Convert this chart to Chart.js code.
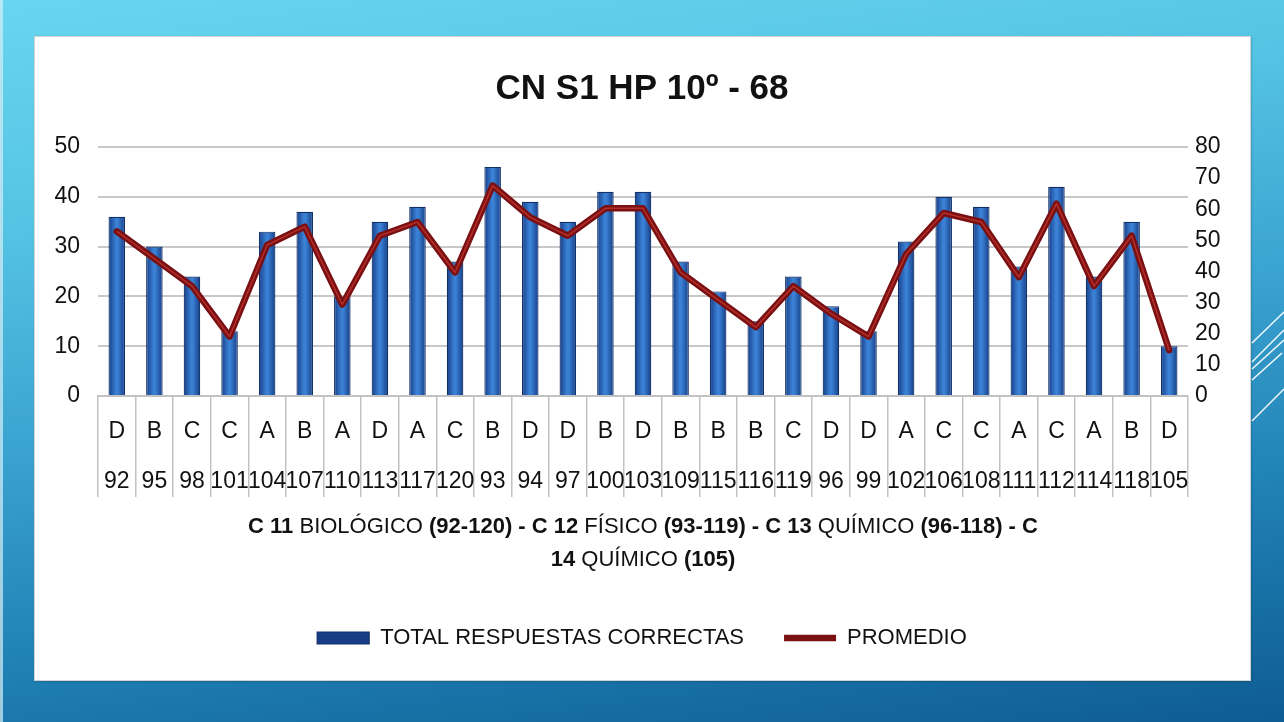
<!DOCTYPE html>
<html>
<head>
<meta charset="utf-8">
<script src="https://cdn.jsdelivr.net/npm/chart.js@4.4.1/dist/chart.umd.min.js"></script>
<style>
  html, body { margin: 0; padding: 0; }
  body {
    width: 1284px; height: 722px; overflow: hidden; position: relative;
    background: linear-gradient(172deg, #68d6f0 0%, #55c4e4 25%, #3aa3d0 50%, #1f7fb3 75%, #0e5c92 100%);
  }
  #edge { position: absolute; left: 0; top: 0; width: 3px; height: 722px; background: #d6eef6; opacity: 0.7; }
  #panel {
    position: absolute; left: 34px; top: 36px; width: 1215px; height: 643px;
    background: #ffffff; border: 1px solid #d2d2d2;
    box-shadow: 1px 1px 2px rgba(0,0,0,0.15);
  }
  #wrap { position: absolute; left: 0; top: 0; width: 1284px; height: 722px; }
</style>
</head>
<body>
<div id="edge"></div>
<div id="panel"></div>
<div id="wrap"><canvas id="c" width="1284" height="722"></canvas></div>
<script>
// ---- data ----
const answers = ['D','B','C','C','A','B','A','D','A','C','B','D','D','B','D','B','B','B','C','D','D','A','C','C','A','C','A','B','D'];
const questions = ['92','95','98','101','104','107','110','113','117','120','93','94','97','100','103','109','115','116','119','96','99','102','106','108','111','112','114','118','105'];
const totalCorrect = [36,30,24,13,33,37,20,35,38,27,46,39,35,41,41,27,21,15,24,18,13,31,40,38,26,42,24,35,10];
const promedio = [52.9,44.1,35.3,19.1,48.5,54.4,29.4,51.5,55.9,39.7,67.6,57.4,51.5,60.3,60.3,39.7,30.9,22.1,35.3,26.5,19.1,45.6,58.8,55.9,38.2,61.8,35.3,51.5,14.7];
const leftTicks = { min: 0, max: 50, step: 10 };
const rightTicks = { min: 0, max: 80, step: 10 };
const titleText = 'CN S1 HP 10º - 68';
const seriesNames = ['TOTAL RESPUESTAS CORRECTAS', 'PROMEDIO'];
const xTitleLines = [
  [['C 11', true], [' BIOLÓGICO ', false], ['(92-120) - C 12', true], [' FÍSICO ', false], ['(93-119) - C 13', true], [' QUÍMICO ', false], ['(96-118) - C', true]],
  [['14', true], [' QUÍMICO ', false], ['(105)', true]]
];

const FONT = "'Liberation Sans', Arial, sans-serif";
Chart.defaults.font.family = FONT;
Chart.defaults.color = '#111111';

const labels = answers.map((a, i) => [a, questions[i]]);
const BAR_PCT = 0.44;

function barFill(context) {
  if (context.type !== 'data') return '#2a5fb8';
  const chart = context.chart;
  const xs = chart.scales.x;
  if (!xs || !isFinite(xs.width) || !isFinite(xs.getPixelForValue(context.dataIndex))) return '#2a5fb8';
  const cx = xs.getPixelForValue(context.dataIndex);
  const w = (xs.width / answers.length) * BAR_PCT;
  const g = chart.ctx.createLinearGradient(cx - w / 2, 0, cx + w / 2, 0);
  g.addColorStop(0, '#163d86');
  g.addColorStop(0.45, '#3a80d4');
  g.addColorStop(0.55, '#3a80d4');
  g.addColorStop(1, '#163d86');
  return g;
}

const xTitlePlugin = {
  id: 'xTitle',
  afterDraw(chart) {
    const ctx = chart.ctx;
    const cx = (chart.chartArea.left + chart.chartArea.right) / 2;
    const ys = [527, 560];
    const size = 22;
    ctx.save();
    ctx.fillStyle = '#111111';
    ctx.textBaseline = 'middle';
    ctx.textAlign = 'left';
    xTitleLines.forEach((line, li) => {
      let total = 0;
      const widths = line.map(([t, b]) => {
        ctx.font = (b ? 'bold ' : '') + size + 'px ' + FONT;
        const w = ctx.measureText(t).width; total += w; return w;
      });
      let x = cx - total / 2;
      line.forEach(([t, b], i) => {
        ctx.font = (b ? 'bold ' : '') + size + 'px ' + FONT;
        ctx.fillText(t, x, ys[li]);
        x += widths[i];
      });
    });
    ctx.restore();
  }
};

const decoPlugin = {
  id: 'deco',
  afterDraw(chart) {
    const ctx = chart.ctx;
    ctx.save();
    ctx.strokeStyle = 'rgba(255,255,255,0.95)';
    ctx.lineWidth = 1.5;
    const segs = [
      [1252, 343, 1284, 312],
      [1252, 362, 1284, 330],
      [1252, 369, 1284, 340],
      [1252, 380, 1282, 353],
      [1252, 421, 1284, 389]
    ];
    segs.forEach(s => { ctx.beginPath(); ctx.moveTo(s[0], s[1]); ctx.lineTo(s[2], s[3]); ctx.stroke(); });
    ctx.restore();
  }
};

const highlightPlugin = {
  id: 'lineHighlight',
  afterDatasetsDraw(chart) {
    const meta = chart.getDatasetMeta(1);
    if (!meta || !meta.data.length) return;
    const ctx = chart.ctx;
    ctx.save();
    ctx.strokeStyle = 'rgba(205,60,52,0.7)';
    ctx.lineWidth = 1.5;
    ctx.lineJoin = 'round';
    ctx.beginPath();
    meta.data.forEach((p, i) => { if (i === 0) ctx.moveTo(p.x, p.y); else ctx.lineTo(p.x, p.y); });
    ctx.stroke();
    ctx.restore();
  }
};

new Chart(document.getElementById('c'), {
  data: {
    labels: labels,
    datasets: [
      {
        type: 'bar',
        label: seriesNames[0],
        data: totalCorrect,
        yAxisID: 'y',
        backgroundColor: barFill,
        borderColor: '#10306a',
        borderWidth: 1.2,
        categoryPercentage: 1,
        barPercentage: BAR_PCT,
        pointStyle: 'rect',
        order: 2
      },
      {
        type: 'line',
        label: seriesNames[1],
        data: promedio,
        yAxisID: 'y1',
        borderColor: '#7a1012',
        backgroundColor: '#7a1012',
        borderWidth: 6.5,
        borderCapStyle: 'round',
        borderJoinStyle: 'round',
        pointRadius: 0,
        tension: 0,
        pointStyle: 'line',
        order: 1
      }
    ]
  },
  options: {
    responsive: false,
    animation: false,
    layout: { padding: { left: 40, right: 40, top: 40, bottom: 63 } },
    plugins: {
      title: {
        display: true,
        text: titleText,
        font: { size: 35, weight: 'bold' },
        color: '#111111',
        padding: { top: 28, bottom: 37 }
      },
      legend: {
        position: 'bottom',
        labels: {
          usePointStyle: true,
          pointStyleWidth: 52,
          boxHeight: 12,
          padding: 40,
          font: { size: 22 },
          color: '#111111',
          sort: (a, b) => a.datasetIndex - b.datasetIndex
        }
      },
      tooltip: { enabled: false }
    },
    scales: {
      x: {
        type: 'category',
        offset: true,
        grid: {
          display: true,
          drawOnChartArea: false,
          drawTicks: true,
          tickLength: 101,
          offset: true,
          color: '#c2c2c2',
          lineWidth: 1.5
        },
        border: { display: true, color: '#c2c2c2', width: 2 },
        ticks: {
          padding: -91,
          maxRotation: 0,
          minRotation: 0,
          autoSkip: false,
          font: { size: 23, lineHeight: 2.2 },
          color: '#111111'
        },
        afterFit(scale) { scale.height = 191; }
      },
      y: {
        position: 'left',
        min: leftTicks.min, max: leftTicks.max,
        ticks: { stepSize: leftTicks.step, padding: 18, font: { size: 23 }, color: '#111111' },
        grid: { color: '#c8c8c8', lineWidth: 2, drawTicks: false },
        border: { display: false },
        afterFit(scale) { scale.width = 58; }
      },
      y1: {
        position: 'right',
        min: rightTicks.min, max: rightTicks.max,
        ticks: { stepSize: rightTicks.step, padding: 7, font: { size: 23 }, color: '#111111' },
        grid: { display: false, drawTicks: false },
        border: { display: false },
        afterFit(scale) { scale.width = 56; }
      }
    }
  },
  plugins: [xTitlePlugin, decoPlugin, highlightPlugin]
});
</script>
</body>
</html>
